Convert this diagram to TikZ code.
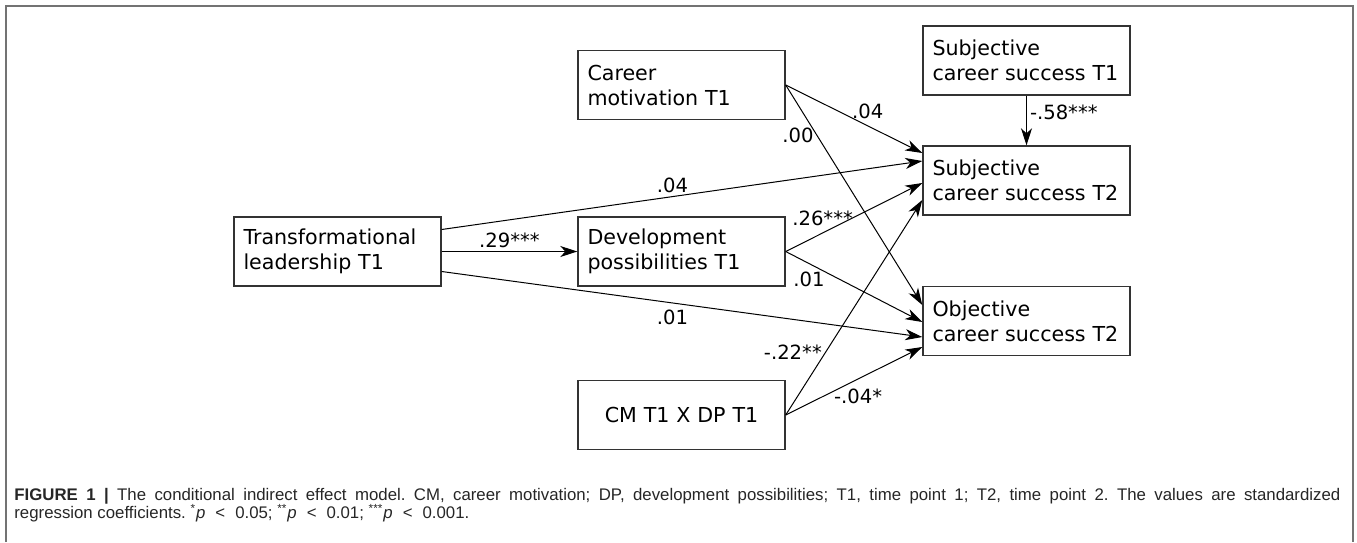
\documentclass[tikz,border=0pt]{standalone}
\usepackage{fontspec}
\setmainfont{DejaVu Sans}
\newfontfamily\capfont{Liberation Sans}
\usetikzlibrary{arrows.meta}
\newcommand{\lessthan}{\hspace{5pt}<\hspace{5pt}}

\begin{document}
\begin{tikzpicture}[x=0.5pt, y=-0.5pt,
        box/.style={draw=black!80, line width=0.7pt, text width=94pt, inner xsep=4.75pt,
            minimum height=34.5pt, align=left, font=\fontsize{10.3}{12.5}\selectfont},
        link/.style={-{Stealth[length=8.5pt, width=5.5pt, inset=2.5pt]}, line width=0.5pt},
        lbl/.style={font=\fontsize{9.8}{11}\selectfont, inner sep=1.5pt},
        captext/.style={anchor=base west, inner sep=0pt, text=black!85,
            font=\capfont\fontsize{8.4}{10}\selectfont\frenchspacing}]
            \useasboundingbox (0,0) rectangle (1357,542);
            \draw[black!55, line width=0.6pt] (6,542) -- (6,6) -- (1353,6) -- (1353,542);

            \draw (337.5,251.5) node[box] (tl) {Transformational\\leadership T1};
            \draw (681.5,85) node[box] (cm) {Career\\motivation T1};
            \draw (681.5,251.5) node[box] (dp) {Development\\possibilities T1};
            \draw (681.5,415) node[box, align=center] (cmdp) {CM T1 X DP T1};
            \draw (1026.5,60.5) node[box] (scsa) {Subjective\\career success T1};
            \draw (1026.5,180.5) node[box] (scsb) {Subjective\\career success T2};
            \draw (1026.5,321) node[box] (ocs) {Objective\\career success T2};

            \draw[link] (tl) -- node[lbl, above] {.29***} (dp);
            \draw[link] ([yshift=11pt]tl.east) -- node[lbl, pos=.48, above] {.04} ([yshift=9.75pt]scsb.west);
            \draw[link] ([yshift=-10pt]tl.east) -- node[lbl, pos=.48, below, yshift=-2pt] {.01} ([yshift=-8pt]ocs.west);
            \draw[link] (cm.east) -- node[lbl, pos=.6, above, yshift=2pt] {.04} ([yshift=13.75pt]scsb.west);
            \draw[link] (cm.east) -- node[lbl, pos=.23, left] {.00} ([yshift=8pt]ocs.west);
            \draw[link] (dp.east) -- node[lbl, pos=.27, above, yshift=2pt] {.26***} ([yshift=-1.25pt]scsb.west);
            \draw[link] (dp.east) -- node[lbl, pos=.17, below, yshift=-2.5pt] {.01} ([yshift=-0.5pt]ocs.west);
            \draw[link] (cmdp.east) -- node[lbl, pos=.29, left] {-.22**} ([yshift=-9.75pt]scsb.west);
            \draw[link] (cmdp.east) -- node[lbl, pos=.53, below, yshift=-3pt] {-.04*} ([yshift=-13pt]ocs.west);
            \draw[link] (scsa) -- node[lbl, pos=.33, right] {-.58***} (scsb);

            \draw (14,500) node[captext] (capa) {\makebox[663pt][s]{\textbf{FIGURE 1 |} The conditional indirect effect model. CM, career motivation; DP, development possibilities; T1, time point 1; T2, time point 2. The values are standardized}};
            \draw (14,518) node[captext] (capb) {regression coefficients. \textsuperscript{*}\textit{p}\lessthan 0.05; \textsuperscript{**}\textit{p}\lessthan 0.01; \textsuperscript{***}\textit{p}\lessthan 0.001.};
        \end{tikzpicture}
\end{document}
